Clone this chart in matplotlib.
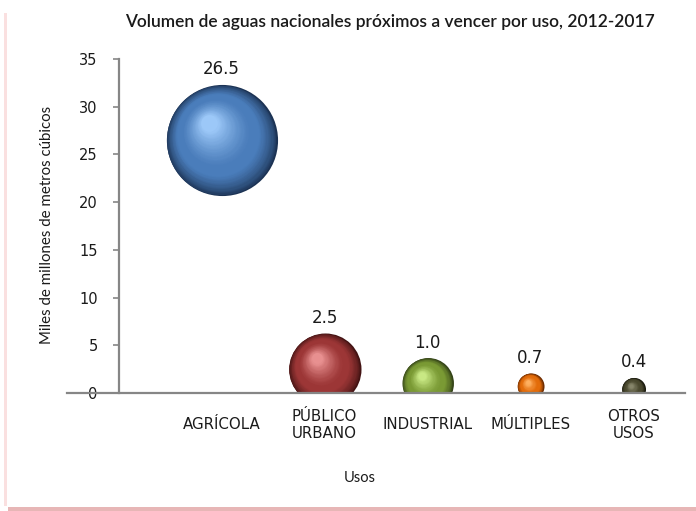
import matplotlib
matplotlib.use('Agg')
import matplotlib.pyplot as plt
import numpy as np
from matplotlib.transforms import offset_copy
from matplotlib.colors import to_rgb
from matplotlib.patches import Rectangle

# ---------------- data ----------------
categories = ['AGRÍCOLA', 'PÚBLICO\nURBANO', 'INDUSTRIAL', 'MÚLTIPLES', 'OTROS\nUSOS']
volumes = [26.5, 2.5, 1.0, 0.7, 0.4]
bubble_size = [100.0, 42.0, 21.0, 5.5, 4.3]   # relative bubble areas
y_ticks = [0, 5, 10, 15, 20, 25, 30, 35]

title = 'Volumen de aguas nacionales próximos a vencer por uso, 2012-2017'
y_label = 'Miles de millones de metros cúbicos'
x_label = 'Usos'

# sphere colours: (dark rim, base, highlight)
sphere_colors = [
    ('#1c3354', '#4a7dbb', '#9cc8f8'),
    ('#431313', '#9c3636', '#e89090'),
    ('#344318', '#7a9a34', '#c8e884'),
    ('#6e2c00', '#e36c0a', '#ffb060'),
    ('#1a1a0e', '#4a492f', '#86856a'),
]

# ---------------- figure ----------------
W, H = 696, 511
fig = plt.figure(figsize=(W / 100, H / 100), dpi=100)
fig.patch.set_facecolor('white')

# frame shadow
fig.add_artist(Rectangle((4 / W, 5 / H), 3 / W, 0.965, transform=fig.transFigure,
                         facecolor='#fae0e0', edgecolor='none'))
fig.add_artist(Rectangle((8 / W, 0), 1 - 8 / W, 4 / H, transform=fig.transFigure,
                         facecolor='#e7b6b6', edgecolor='none'))

ax = fig.add_axes([67 / W, 1 - 393 / H, (685 - 67) / W, (393 - 59) / H])
ax.set_xlim(-0.5, 5.5)
ax.set_ylim(0, 35)
ax.set_facecolor('none')

grey = '#868686'
for s in ['top', 'right']:
    ax.spines[s].set_visible(False)
ax.spines['left'].set_position(('data', 0))
ax.spines['left'].set_color(grey)
ax.spines['left'].set_linewidth(1.6)
ax.spines['bottom'].set_color(grey)
ax.spines['bottom'].set_linewidth(1.6)
ax.spines['left'].set_zorder(50)
ax.spines['bottom'].set_zorder(50)

ax.set_yticks(y_ticks)
ax.set_yticklabels([str(t) for t in y_ticks], fontsize=10.5, family='DejaVu Sans', color='#1a1a1a')
ax.tick_params(axis='y', direction='out', length=4, width=1.2, color=grey, pad=11)

xs = np.arange(1, len(categories) + 1)
ax.set_xticks(xs)
ax.set_xticklabels(categories, fontsize=10.8, family='DejaVu Sans', color='#1a1a1a',
                   linespacing=1.2)
ax.tick_params(axis='x', length=0, pad=23)
for lbl in ax.get_xticklabels():
    lbl.set_verticalalignment('center')

# ---------------- spheres ----------------
max_r_pt = 40.0
N = 50


def lerp(c1, c2, t):
    a = np.array(to_rgb(c1)); b = np.array(to_rgb(c2))
    return tuple(a + (b - a) * t)


for x, v, size, (dark, base, light) in zip(xs, volumes, bubble_size, sphere_colors):
    R = max_r_pt * np.sqrt(size / max(bubble_size))
    hx, hy = -0.22 * R, 0.30 * R
    for i in range(N):
        t = i / (N - 1)
        r = R * (1 - 0.85 * t)
        dx, dy = hx * t, hy * t
        if t < 0.3:
            col = lerp(dark, base, (t / 0.3) ** 0.7)
        elif t < 0.45:
            col = base
        else:
            col = lerp(base, light, ((t - 0.45) / 0.55) ** 1.3)
        tr = offset_copy(ax.transData, fig=fig, x=dx, y=dy, units='points')
        ax.scatter([x], [v], s=(2 * r) ** 2, color=[col], linewidths=0,
                   transform=tr, zorder=10 + i)
    ax.annotate(f'{v:.1f}', xy=(x, v), xytext=(0, R + 11), textcoords='offset points',
                ha='center', va='center', fontsize=12, family='DejaVu Sans',
                color='#1a1a1a', zorder=100)

# ---------------- texts ----------------
fig.text(390 / W, 1 - 22 / H, title, ha='center', va='center', fontsize=12.5,
         family='Lato', weight='semibold', color='#1a1a1a')
fig.text(47 / W, 1 - 225 / H, y_label, ha='center', va='center', rotation=90,
         fontsize=10.8, family='Lato', color='#1a1a1a')
fig.text(360 / W, 1 - 478 / H, x_label, ha='center', va='center', fontsize=10.5,
         family='Lato', color='#1a1a1a')

fig.savefig('out.png', dpi=100)
